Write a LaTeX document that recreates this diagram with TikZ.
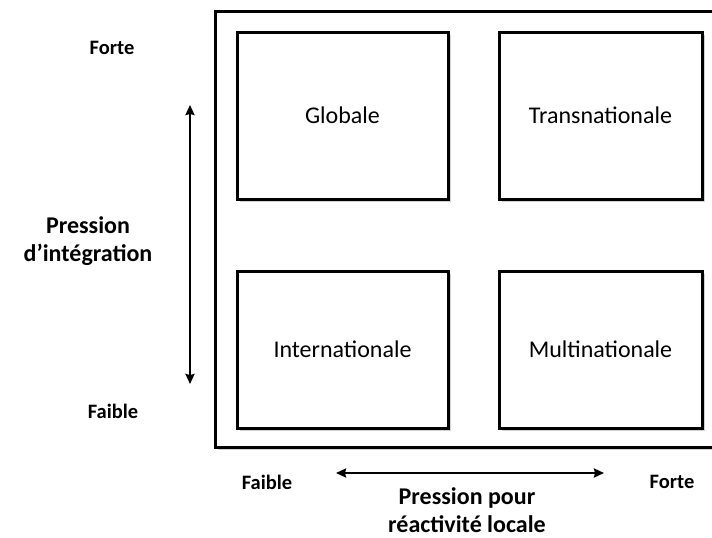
\documentclass[tikz,border=0pt]{standalone}
\usepackage{fontspec}
\setmainfont{Carlito}
\usetikzlibrary{arrows.meta,shadows}

\begin{document}
\begin{tikzpicture}[x=1pt,y=-1pt,frame/.style={draw=black,line width=3pt,fill=white,drop shadow={shadow xshift=2.5pt,shadow yshift=-2.5pt,fill=black,opacity=0.18}},quad/.style={frame,minimum height=167pt,font=\fontsize{24}{28}\selectfont,inner sep=0pt},lab/.style={font=\fontsize{20.5}{24}\selectfont\bfseries},axis/.style={font=\fontsize{24}{28}\selectfont\bfseries,align=center,inner sep=0pt},arr/.style={{Stealth[length=10pt,width=9pt,inset=1pt]}-{Stealth[length=10pt,width=9pt,inset=1pt]},line width=2.6pt}]
\useasboundingbox (0,0) rectangle (712,538);
\node[frame,minimum width=501pt,minimum height=436pt,inner sep=0pt] (outer) at (465.5,229) {};
\node[quad,minimum width=211pt] (glob) at (342.5,115.5) {Globale};
\node[quad,minimum width=203pt] (trans) at (600.5,115.5) {Transnationale};
\node[quad,minimum width=211pt,minimum height=157pt] (inter) at (342.5,349.5) {Internationale};
\node[quad,minimum width=203pt,minimum height=157pt] (multi) at (600.5,349.5) {Multinationale};
\node[lab] (fortey) at (112,48) {Forte};
\node[lab] (faibley) at (113,411) {Faible};
\node[axis] (integ) at (88,241) {Pression\\d’intégration};
\node[lab] (faiblex) at (267,482) {Faible};
\node[lab] (fortex) at (672,482) {Forte};
\node[axis] (reac) at (467,510) {Pression pour\\réactivité locale};
\coordinate (vtop) at (190,105);
\coordinate (vbot) at (190,384);
\coordinate (hleft) at (336,473);
\coordinate (hright) at (604,473);
\draw[arr] (vtop) -- (vbot);
\draw[arr] (hleft) -- (hright);
\end{tikzpicture}
\end{document}
